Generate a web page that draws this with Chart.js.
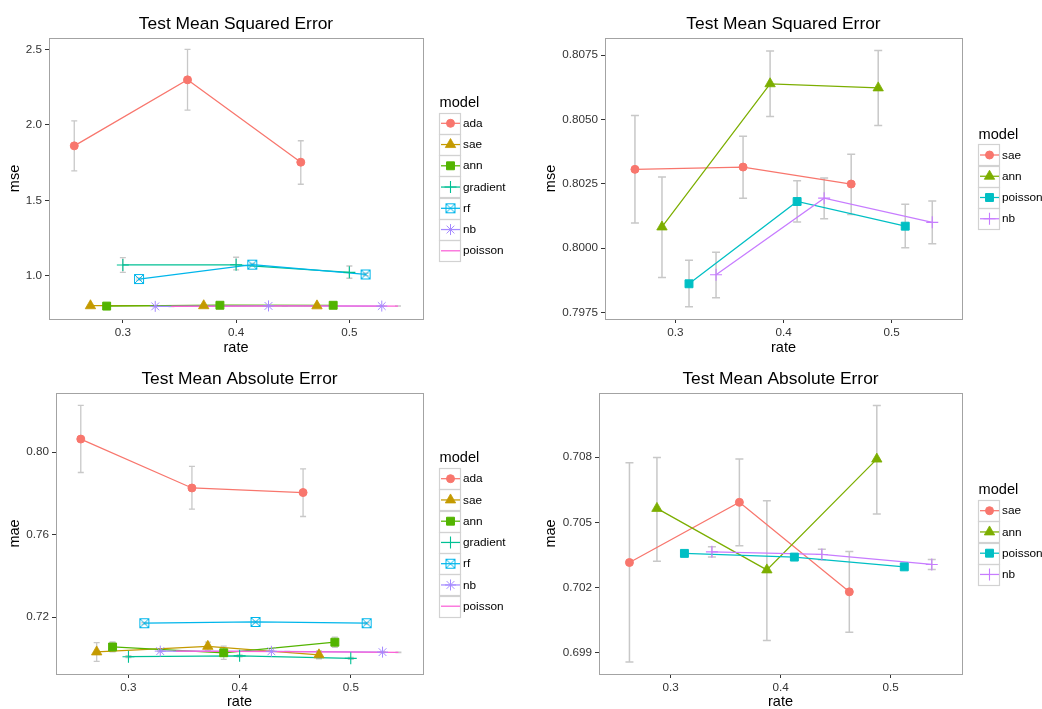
<!DOCTYPE html>
<html>
<head>
<meta charset="utf-8">
<script src="https://cdn.jsdelivr.net/npm/chart.js@4.4.1/dist/chart.umd.min.js"></script>
<style>
  html, body { margin: 0; padding: 0; background: #fff; }
  #wrap { position: relative; width: 1042px; height: 709px; }
  #wrap canvas { position: absolute; }
</style>
</head>
<body>
<div id="wrap">
  <canvas id="mseAll" width="520" height="355" style="left:0;top:0"></canvas>
  <canvas id="mseSub" width="522" height="355" style="left:520px;top:0"></canvas>
  <canvas id="maeAll" width="520" height="354" style="left:0;top:355px"></canvas>
  <canvas id="maeSub" width="522" height="354" style="left:520px;top:355px"></canvas>
</div>
<script>
const FONT = "'Liberation Sans', Arial, sans-serif";
Chart.defaults.font.family = FONT;

// ---- data ----
const xTicks = [0.3, 0.4, 0.5];
const mseAllTicks = [1.0, 1.5, 2.0, 2.5];
const mseSubTicks = [0.7975, 0.8, 0.8025, 0.805, 0.8075];
const maeAllTicks = [0.72, 0.76, 0.80];
const maeSubTicks = [0.699, 0.702, 0.705, 0.708];

const modelsAll = ['ada', 'sae', 'ann', 'gradient', 'rf', 'nb', 'poisson'];
const modelsSub = ['sae', 'ann', 'poisson', 'nb'];

// rate as plotted (dodged per model)
const rateAll = [
  [0.2571, 0.3571, 0.4571],
  [0.2714, 0.3714, 0.4714],
  [0.2857, 0.3857, 0.4857],
  [0.3000, 0.4000, 0.5000],
  [0.3143, 0.4143, 0.5143],
  [0.3286, 0.4286, 0.5286],
  [0.3429, 0.4429, 0.5429]
];
const rateSub = [
  [0.2625, 0.3625, 0.4625],
  [0.2875, 0.3875, 0.4875],
  [0.3125, 0.4125, 0.5125],
  [0.3375, 0.4375, 0.5375]
];

// test mse, all models
const mseAll = [
  [1.861, 2.298, 1.753],
  [0.8031, 0.8032, 0.8025],
  [0.8008, 0.8064, 0.8062],
  [1.073, 1.074, 1.024],
  [0.980, 1.075, 1.010],
  [0.7990, 0.8019, 0.8010],
  [0.7986, 0.8018, 0.8009]
];
const mseAllLo = [
  [1.695, 2.097, 1.607],
  [0.8010, 0.8019, 0.8013],
  [0.7989, 0.8051, 0.8048],
  [1.024, 1.040, 0.985],
  [0.972, 1.067, 1.002],
  [0.7981, 0.8011, 0.8002],
  [0.7977, 0.8010, 0.8000]
];
const mseAllHi = [
  [2.026, 2.500, 1.895],
  [0.8052, 0.8044, 0.8037],
  [0.8028, 0.8077, 0.8077],
  [1.121, 1.124, 1.066],
  [0.988, 1.083, 1.018],
  [0.7998, 0.8027, 0.8018],
  [0.7995, 0.8026, 0.8017]
];

// test mse, without ada / gradient / rf
const mseSub = [
  [0.80306, 0.80315, 0.80249],
  [0.80082, 0.80639, 0.80623],
  [0.79861, 0.80181, 0.80085],
  [0.79896, 0.80194, 0.80100]
];
const mseSubLo = [
  [0.80097, 0.80194, 0.80130],
  [0.79885, 0.80512, 0.80477],
  [0.79772, 0.80101, 0.80001],
  [0.79807, 0.80114, 0.80017]
];
const mseSubHi = [
  [0.80516, 0.80435, 0.80365],
  [0.80276, 0.80766, 0.80768],
  [0.79953, 0.80262, 0.80170],
  [0.79984, 0.80272, 0.80183]
];

// test mae, all models
const maeAll = [
  [0.8063, 0.7826, 0.7804],
  [0.7032, 0.7059, 0.7018],
  [0.7056, 0.7028, 0.7079],
  [0.7009, 0.7013, 0.7001],
  [0.7171, 0.7177, 0.7171],
  [0.7036, 0.7035, 0.7031],
  [0.7036, 0.7034, 0.7030]
];
const maeAllLo = [
  [0.7901, 0.7724, 0.7688],
  [0.6986, 0.7039, 0.6999],
  [0.7032, 0.6996, 0.7054],
  [0.7004, 0.7008, 0.6996],
  [0.7167, 0.7173, 0.7167],
  [0.7034, 0.7033, 0.7029],
  [0.7035, 0.7033, 0.7029]
];
const maeAllHi = [
  [0.8226, 0.7931, 0.7919],
  [0.7077, 0.7079, 0.7037],
  [0.7080, 0.7060, 0.7104],
  [0.7014, 0.7018, 0.7006],
  [0.7175, 0.7181, 0.7175],
  [0.7038, 0.7037, 0.7033],
  [0.7037, 0.7035, 0.7031]
];

// test mae, without ada / gradient / rf
const maeSub = [
  [0.70315, 0.70592, 0.70180],
  [0.70564, 0.70281, 0.70791],
  [0.70357, 0.70340, 0.70295],
  [0.70364, 0.70352, 0.70306]
];
const maeSubLo = [
  [0.69857, 0.70392, 0.69994],
  [0.70321, 0.69956, 0.70538],
  [0.70347, 0.70330, 0.70285],
  [0.70340, 0.70328, 0.70283]
];
const maeSubHi = [
  [0.70774, 0.70791, 0.70366],
  [0.70798, 0.70599, 0.71037],
  [0.70367, 0.70350, 0.70305],
  [0.70388, 0.70376, 0.70329]
];

// ---- styles ----
const colorsAll = ['#F8766D', '#C49A00', '#53B400', '#00C094', '#00B6EB', '#A58AFF', '#FB61D7'];
const colorsSub = ['#F8766D', '#7CAE00', '#00BFC4', '#C77CFF'];

// open square with an x in it (R shape 7)
function boxX(color) {
  const c = document.createElement('canvas');
  c.width = 12; c.height = 12;
  const g = c.getContext('2d');
  g.strokeStyle = color;
  g.lineWidth = 1;
  g.strokeRect(1.5, 1.5, 9, 9);
  g.beginPath();
  g.moveTo(1.5, 1.5); g.lineTo(10.5, 10.5);
  g.moveTo(10.5, 1.5); g.lineTo(1.5, 10.5);
  g.stroke();
  return c;
}

const CIRCLE = { style: 'circle', r: 4, bw: 1 };
const TRI = { style: 'triangle', r: 6, bw: 0.8 };
const SQUARE = { style: 'rect', r: 5.6, bw: 1 };
const PLUS = { style: 'cross', r: 6, bw: 1.1 };
const STAR = { style: 'star', r: 5.5, bw: 1 };
const BOXX = { style: boxX, r: 5, bw: 1 };

const shapesAll = [CIRCLE, TRI, SQUARE, PLUS, BOXX, STAR, null];
const shapesSub = [CIRCLE, TRI, SQUARE, PLUS];

function makePanel(id, p) {
  const canvas = document.getElementById(id);
  const W = canvas.width, H = canvas.height;
  const datasets = [];

  p.models.forEach((m, i) => {
    const pts = p.xs[i].map((x, j) => ({ x: x, y: p.ys[i][j] }));
    datasets.push({
      label: m,
      data: pts,
      showLine: true,
      borderColor: p.colors[i],
      borderWidth: 1.25,
      pointRadius: 0,
      order: 20 - i,
      errLo: p.lo[i],
      errHi: p.hi[i]
    });
    const s = p.shapes[i];
    if (s) {
      datasets.push({
        label: m,
        data: pts,
        showLine: false,
        pointStyle: typeof s.style === 'function' ? s.style(p.colors[i]) : s.style,
        pointRadius: s.r,
        pointBorderWidth: s.bw,
        pointBackgroundColor: p.colors[i],
        pointBorderColor: p.colors[i],
        order: 10 - i
      });
    }
  });

  const decor = {
    id: 'decor',
    beforeDatasetsDraw(chart) {
      // error bars sit under lines and points
      const { ctx, scales: { x, y } } = chart;
      ctx.save();
      ctx.strokeStyle = '#c8c8c8';
      ctx.lineWidth = p.errWidth;
      chart.data.datasets.forEach(ds => {
        if (!ds.errLo) return;
        ds.data.forEach((pt, j) => {
          const px = x.getPixelForValue(pt.x);
          const y0 = y.getPixelForValue(ds.errLo[j]);
          const y1 = y.getPixelForValue(ds.errHi[j]);
          ctx.beginPath();
          ctx.moveTo(px, y0); ctx.lineTo(px, y1);
          ctx.moveTo(px - p.cap, y0); ctx.lineTo(px + p.cap, y0);
          ctx.moveTo(px - p.cap, y1); ctx.lineTo(px + p.cap, y1);
          ctx.stroke();
        });
      });
      ctx.restore();
    },
    afterDraw(chart) {
      const { ctx, chartArea: a } = chart;
      ctx.save();
      // panel border
      ctx.strokeStyle = '#a3a3a3';
      ctx.lineWidth = 1;
      ctx.strokeRect(Math.floor(a.left) + 0.5, Math.floor(a.top) + 0.5,
        Math.round(a.right - a.left), Math.round(a.bottom - a.top));

      // title
      ctx.fillStyle = '#000';
      ctx.font = '17.4px ' + FONT;
      ctx.textAlign = 'center';
      ctx.textBaseline = 'alphabetic';
      ctx.fillText(p.title, (a.left + a.right) / 2, 29);

      // legend
      const x0 = Math.floor(a.right) + 16;
      ctx.textAlign = 'left';
      ctx.font = '14.6px ' + FONT;
      ctx.fillText('model', x0 + 0.5, p.legendY - 16.5);
      ctx.font = '11.8px ' + FONT;
      p.models.forEach((m, i) => {
        const cy = p.legendY + i * 21.25;
        ctx.strokeStyle = '#d2d2d2';
        ctx.lineWidth = 1.2;
        ctx.strokeRect(x0 + 0.5, Math.round(cy - 10.6) + 0.5, 21, 21);
        ctx.strokeStyle = p.colors[i];
        ctx.lineWidth = 1.25;
        ctx.beginPath();
        ctx.moveTo(x0 + 2, cy); ctx.lineTo(x0 + 21, cy);
        ctx.stroke();
        const s = p.shapes[i];
        if (s) {
          ctx.fillStyle = p.colors[i];
          ctx.strokeStyle = p.colors[i];
          ctx.lineWidth = s.bw;
          Chart.helpers.drawPoint(ctx, {
            pointStyle: typeof s.style === 'function' ? s.style(p.colors[i]) : s.style,
            radius: s.r, rotation: 0, borderWidth: s.bw
          }, x0 + 11.5, cy);
        }
        ctx.fillStyle = '#000';
        ctx.fillText(m, x0 + 24, cy + 3.6);
      });
      ctx.restore();
    }
  };

  return new Chart(canvas, {
    type: 'scatter',
    data: { datasets: datasets },
    options: {
      responsive: false,
      animation: false,
      events: [],
      layout: { padding: { left: 0, top: p.box.top, right: W - p.box.right, bottom: 0 } },
      plugins: { legend: { display: false }, tooltip: { enabled: false } },
      scales: {
        x: {
          type: 'linear',
          min: 0.2348,
          max: 0.5650,
          afterBuildTicks: s => { s.ticks = xTicks.map(v => ({ value: v })); },
          afterFit: s => { s.height = H - p.box.bottom; },
          ticks: { callback: v => v.toFixed(1), color: '#333', font: { size: 11.7 }, padding: 3, maxRotation: 0, autoSkip: false },
          grid: { drawOnChartArea: false, drawTicks: true, tickLength: 4, tickColor: '#333' },
          border: { display: false },
          title: { display: true, text: 'rate', color: '#000', font: { size: 14.5, lineHeight: 1 }, padding: 0 }
        },
        y: {
          type: 'linear',
          min: p.yMin,
          max: p.yMax,
          afterBuildTicks: s => { s.ticks = p.yTicks.map(v => ({ value: v })); },
          afterFit: s => { s.width = p.box.left; },
          ticks: { callback: v => v.toFixed(p.yDigits), color: '#333', font: { size: 11.7 }, padding: 3, autoSkip: false },
          grid: { drawOnChartArea: false, drawTicks: true, tickLength: 4, tickColor: '#333' },
          border: { display: false },
          title: { display: true, text: p.yLabel, color: '#000', font: { size: 14.5 }, padding: { top: p.yTitlePad, bottom: 0 } }
        }
      }
    },
    plugins: [decor]
  });
}

makePanel('mseAll', {
  title: 'Test Mean Squared Error', yLabel: 'mse',
  models: modelsAll, colors: colorsAll, shapes: shapesAll,
  xs: rateAll, ys: mseAll, lo: mseAllLo, hi: mseAllHi,
  yMin: 0.7154, yMax: 2.5748, yTicks: mseAllTicks, yDigits: 1,
  box: { left: 49, right: 423, top: 38, bottom: 319 },
  yTitlePad: 6.7, legendY: 123.3, cap: 3, errWidth: 1.3
});

makePanel('mseSub', {
  title: 'Test Mean Squared Error', yLabel: 'mse',
  models: modelsSub, colors: colorsSub, shapes: shapesSub,
  xs: rateSub, ys: mseSub, lo: mseSubLo, hi: mseSubHi,
  yMin: 0.79724, yMax: 0.80817, yTicks: mseSubTicks, yDigits: 4,
  box: { left: 85, right: 442, top: 38, bottom: 319 },
  yTitlePad: 22.6, legendY: 155, cap: 4, errWidth: 1.5
});

makePanel('maeAll', {
  title: 'Test Mean Absolute Error', yLabel: 'mae',
  models: modelsAll, colors: colorsAll, shapes: shapesAll,
  xs: rateAll, ys: maeAll, lo: maeAllLo, hi: maeAllHi,
  yMin: 0.69251, yMax: 0.82861, yTicks: maeAllTicks, yDigits: 2,
  box: { left: 56, right: 423, top: 38, bottom: 319 },
  yTitlePad: 6.7, legendY: 123.7, cap: 3, errWidth: 1.3
});

makePanel('maeSub', {
  title: 'Test Mean Absolute Error', yLabel: 'mae',
  models: modelsSub, colors: colorsSub, shapes: shapesSub,
  xs: rateSub, ys: maeSub, lo: maeSubLo, hi: maeSubHi,
  yMin: 0.69802, yMax: 0.71095, yTicks: maeSubTicks, yDigits: 3,
  box: { left: 79, right: 442, top: 38, bottom: 319 },
  yTitlePad: 22.6, legendY: 155.7, cap: 4, errWidth: 1.5
});
</script>
</body>
</html>
